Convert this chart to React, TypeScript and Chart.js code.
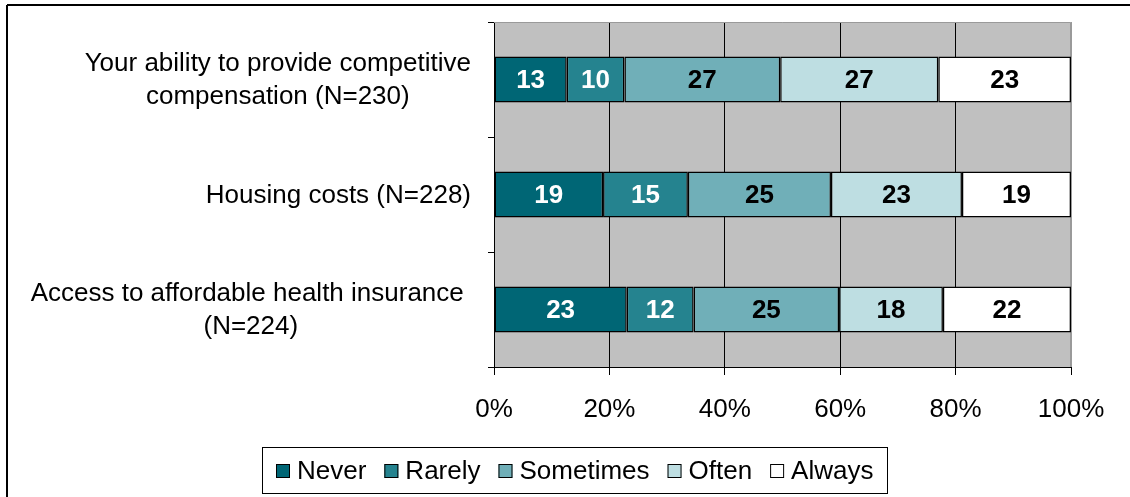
import React, { useEffect, useRef } from "react";
import { Chart, registerables } from "chart.js";

Chart.register(...registerables);

// ---- data ----
const categories: string[][] = [
  ["Your ability to provide competitive", "compensation (N=230)"],
  ["Housing costs (N=228)"],
  ["Access to affordable health insurance ", "(N=224)"],
];
const seriesNames = ["Never", "Rarely", "Sometimes", "Often", "Always"];
const never = [12.6, 18.9, 23.0];
const rarely = [10.0, 14.7, 11.6];
const sometimes = [27.0, 24.8, 25.2];
const often = [27.4, 22.7, 18.0];
const always = [23.0, 18.9, 22.2];
const xTickValues = [0, 20, 40, 60, 80, 100];

// ---- styles ----
const FONT = '"Liberation Sans", Arial, Helvetica, sans-serif';
const seriesColors = ["#006675", "#25838F", "#70AFB8", "#BEDEE2", "#FFFFFF"];
const labelColors = ["#FFFFFF", "#FFFFFF", "#000000", "#000000", "#000000"];

const decoPlugin = {
  id: "deco",
  beforeDraw(chart: any) {
    const { ctx, chartArea: a } = chart;
    ctx.save();
    ctx.fillStyle = "#FFFFFF";
    ctx.fillRect(0, 0, chart.width, chart.height);
    ctx.fillStyle = "#C0C0C0";
    ctx.fillRect(a.left, a.top, a.right - a.left, a.bottom - a.top);
    ctx.strokeStyle = "#000";
    ctx.lineWidth = 2;
    ctx.beginPath();
    ctx.moveTo(7, 5);
    ctx.lineTo(chart.width, 5);
    ctx.moveTo(7, 5);
    ctx.lineTo(7, chart.height);
    ctx.stroke();
    ctx.restore();
  },
  beforeDatasetsDraw(chart: any) {
    const { ctx, chartArea: a } = chart;
    ctx.save();
    ctx.strokeStyle = "#9A9A9A";
    ctx.lineWidth = 1;
    ctx.beginPath();
    ctx.moveTo(a.left, a.top + 0.5);
    ctx.lineTo(a.right - 0.5, a.top + 0.5);
    ctx.lineTo(a.right - 0.5, a.bottom);
    ctx.stroke();
    ctx.restore();
  },
  afterDatasetsDraw(chart: any) {
    const { ctx } = chart;
    ctx.save();
    ctx.font = `bold 26px ${FONT}`;
    ctx.textAlign = "center";
    ctx.textBaseline = "middle";
    chart.data.datasets.forEach((ds: any, d: number) => {
      const meta = chart.getDatasetMeta(d);
      ctx.fillStyle = labelColors[d];
      meta.data.forEach((bar: any, i: number) => {
        const p = bar.getProps(["x", "base", "y"], true);
        ctx.fillText(String(Math.round(ds.data[i])), (p.x + p.base) / 2, p.y + 1);
      });
    });
    ctx.restore();
  },
  afterDraw(chart: any) {
    const { ctx } = chart;
    const yScale = chart.scales.y;
    ctx.save();
    // category labels: centered block, right aligned
    ctx.font = `26px ${FONT}`;
    ctx.fillStyle = "#000";
    ctx.textAlign = "center";
    ctx.textBaseline = "middle";
    const lineH = 33;
    const rightEdge = yScale.right - 23;
    (chart.data.labels as string[][]).forEach((lines, i) => {
      const cy = yScale.getPixelForTick(i);
      const widest = Math.max(...lines.map((l) => ctx.measureText(l).width));
      const cx = rightEdge - widest / 2;
      const y0 = cy - ((lines.length - 1) * lineH) / 2 + 1;
      lines.forEach((l, k) => ctx.fillText(l, cx, y0 + k * lineH));
    });

    // legend
    const box = 14, gapText = 7, gapItem = 18, edge = 14;
    const items = chart.data.datasets.map((ds: any) => ({
      label: ds.label,
      color: ds.backgroundColor,
      w: ctx.measureText(ds.label).width,
    }));
    const total =
      items.reduce((s: number, it: any) => s + box + gapText + it.w, 0) +
      gapItem * (items.length - 1) +
      edge * 2;
    const centerX = 574.5;
    const top = chart.height - 50;
    const h = 46;
    const left = Math.round(centerX - total / 2);
    ctx.strokeStyle = "#000";
    ctx.lineWidth = 1;
    ctx.strokeRect(left + 0.5, top + 0.5, Math.round(total), h);
    const cy = top + h / 2 + 0.5;
    let x = left + edge;
    ctx.textAlign = "left";
    items.forEach((it: any) => {
      ctx.fillStyle = it.color;
      ctx.fillRect(x, Math.round(cy - box / 2), box, box);
      ctx.strokeRect(x + 0.5, Math.round(cy - box / 2) + 0.5, box - 1, box - 1);
      x += box + gapText;
      ctx.fillStyle = "#000";
      ctx.fillText(it.label, x, cy + 1);
      x += it.w + gapItem;
    });
    ctx.restore();
  },
};

export default function App() {
  const ref = useRef<HTMLCanvasElement | null>(null);
  useEffect(() => {
    if (!ref.current) return;
    const seriesValues = [never, rarely, sometimes, often, always];
    const chart = new Chart(ref.current, {
      type: "bar",
      data: {
        labels: categories as any,
        datasets: seriesNames.map((name, i) => ({
          label: name,
          data: seriesValues[i],
          backgroundColor: seriesColors[i],
          borderColor: "#000",
          borderWidth: 1.5,
          borderSkipped: false,
          barPercentage: 0.4,
          categoryPercentage: 1.0,
        })),
      },
      options: {
        indexAxis: "y",
        animation: false,
        responsive: false,
        devicePixelRatio: 1,
        layout: { padding: { left: 0, right: 59, top: 22, bottom: 70 } },
        plugins: {
          legend: { display: false },
          tooltip: { enabled: false },
          title: { display: false },
        },
        scales: {
          x: {
            stacked: true,
            min: 0,
            max: 100,
            afterBuildTicks: (scale: any) => {
              scale.ticks = xTickValues.map((v) => ({ value: v }));
            },
            afterFit: (scale: any) => {
              scale.height = 60;
            },
            ticks: {
              callback: (v: any) => `${v}%`,
              color: "#000",
              font: { family: FONT, size: 26 },
              padding: 19,
              maxRotation: 0,
              autoSkip: false,
            },
            grid: {
              drawOnChartArea: true,
              drawTicks: true,
              tickLength: 8,
              tickColor: "#000",
              color: (c: any) => {
                const v = c.tick ? c.tick.value : null;
                if (v === 0) return "rgba(0,0,0,0)";
                if (v === 100) return "#9A9A9A";
                return "#000";
              },
              lineWidth: 1,
            },
            border: { display: true, color: "#000", width: 1 },
          },
          y: {
            stacked: true,
            afterFit: (scale: any) => {
              scale.width = 494;
            },
            ticks: { display: false },
            grid: {
              offset: true,
              drawOnChartArea: false,
              drawTicks: true,
              tickLength: 6,
              color: "#000",
            },
            border: { display: true, color: "#000", width: 1 },
          },
        },
      },
      plugins: [decoPlugin],
    } as any);
    return () => chart.destroy();
  }, []);

  return (
    <div style={{ position: "absolute", left: 0, top: 0, width: 1130, height: 497, background: "#fff" }}>
      <canvas ref={ref} width={1130} height={497} style={{ display: "block" }} />
    </div>
  );
}
